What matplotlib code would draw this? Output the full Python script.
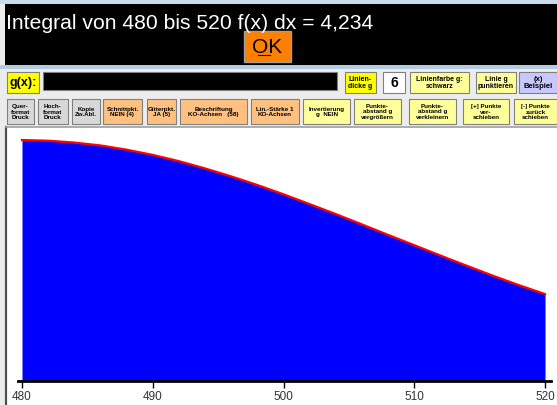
import matplotlib
matplotlib.use('Agg')
import matplotlib.pyplot as plt
from matplotlib.patches import Rectangle

plt.rcParams['font.family'] = ['Liberation Sans', 'DejaVu Sans']

# values (f(x) at every 2 units)
x_vals = [480, 482, 484, 486, 488, 490, 492, 494, 496, 498, 500,
          502, 504, 506, 508, 510, 512, 514, 516, 518, 520]
f_vals = [0.1425, 0.1421, 0.1410, 0.1393, 0.1368, 0.1337, 0.1300, 0.1257,
          0.1210, 0.1159, 0.1104, 0.1046, 0.0987, 0.0926, 0.0864, 0.0803,
          0.0742, 0.0682, 0.0623, 0.0567, 0.0514]
x_ticks = [480, 490, 500, 510, 520]
title_text = "Integral von 480 bis 520 f(x) dx = 4,234"

# buttons of the window: (x0, y0, x1, y1, colour, label, fontsize)
row1 = [
    (7, 72, 39, 93, '#FFFF00', 'g(x):', 9),
    (345, 72, 376, 93, '#FFFF00', 'Linien-\ndicke g', 5),
    (383, 72, 405, 93, '#FFFFFF', '6', 10),
    (410, 72, 469, 93, '#FFFF99', 'Linienfarbe g:\nschwarz', 5),
    (476, 72, 516, 93, '#FFFF99', 'Linie g\npunktieren', 5),
    (519, 72, 557, 93, '#C8C8FF', '(x)\nBeispiel', 5.5),
]
row2 = [
    (7, 99, 34, 124, '#D8D8D8', 'Quer-\nformat\nDruck', 4.5),
    (38, 99, 68, 124, '#D8D8D8', 'Hoch-\nformat\nDruck', 4.5),
    (72, 99, 100, 124, '#D8D8D8', 'Kopie\nZw.Abl.', 4.5),
    (103, 99, 142, 124, '#FFC080', 'Schnittpkt.\nNEIN (4)', 4.5),
    (147, 99, 176, 124, '#FFC080', 'Gitterpkt.\nJA (5)', 4.5),
    (180, 99, 247, 124, '#FFC080', 'Beschriftung\nKO-Achsen   (58)', 4.5),
    (251, 99, 299, 124, '#FFC080', 'Lin.-Stärke 1\nKO-Achsen', 4.5),
    (303, 99, 350, 124, '#FFFF99', 'Invertierung\ng  NEIN', 4.5),
    (354, 99, 401, 124, '#FFFF99', 'Punkte-\nabstand g\nvergrößern', 4.5),
    (409, 99, 456, 124, '#FFFF99', 'Punkte-\nabstand g\nverkleinern', 4.5),
    (463, 99, 509, 124, '#FFFF99', '[+] Punkte\nver-\nschieben', 4.5),
    (514, 99, 557, 124, '#FFFF99', '[-] Punkte\nzurück\nschieben', 4.5),
]

fig = plt.figure(figsize=(5.57, 4.05), dpi=100)
fig.patch.set_facecolor('#ECECEC')

bg = fig.add_axes([0, 0, 1, 1])
bg.set_xlim(0, 557)
bg.set_ylim(405, 0)
bg.axis('off')

def box(x0, y0, x1, y1, color, edge='#808080', lw=0.8):
    bg.add_patch(Rectangle((x0, y0), x1 - x0, y1 - y0, facecolor=color,
                           edgecolor=edge, linewidth=lw))

# top bar
box(0, 0, 557, 4, '#C8DCEE', edge='none')
box(5, 4, 557, 65, '#000000', edge='none')
box(0, 65, 557, 69, '#B4CCE2', edge='none')
bg.text(6, 29, title_text, color='white', fontsize=15.2, va='baseline', ha='left')
box(244, 31, 291, 62, '#FF8000', edge='#A0A0A0', lw=1)
bg.text(267.5, 53, 'OK', color='black', fontsize=15, va='baseline', ha='center')
bg.plot([258, 270], [55, 55], color='black', lw=0.8)

# text field
box(43, 72, 337, 90, '#000000', edge='#808080')

for x0, y0, x1, y1, col, lab, fs in row1 + row2:
    box(x0, y0, x1, y1, col)
    bg.text((x0 + x1) / 2, (y0 + y1) / 2 + 0.5, lab, fontsize=fs, ha='center',
            va='center', fontweight='bold', linespacing=1.05)

# plot panel
box(7, 127, 557, 405, '#FFFFFF', edge='none')
bg.plot([6, 6], [127, 405], color='#505050', lw=1.6)
bg.plot([6, 557], [127, 127], color='#A0A0A0', lw=1.2)

# chart itself
px = 13.09
ax = fig.add_axes([18 / 557, (405 - 381) / 405, 533 / 557, (381 - 128) / 405])
ax.set_facecolor('none')
ax.set_xlim(480 - 4 / px, 520 + 6 / px)
ax.set_ylim(0, (381 - 128) / 1691)
ax.fill_between(x_vals, f_vals, 0, color='#0000FF', linewidth=0)
ax.plot(x_vals, f_vals, color='#FF0000', linewidth=1.6)

for s in ['top', 'left', 'right']:
    ax.spines[s].set_visible(False)
ax.spines['bottom'].set_linewidth(2)
ax.set_yticks([])
ax.set_xticks(x_ticks)
ax.set_xticklabels([str(t) for t in x_ticks])
ax.tick_params(axis='x', direction='out', length=5, width=1, pad=2,
               labelsize=8.5, labelcolor='#333333')

plt.savefig('out.png', dpi=100, facecolor=fig.get_facecolor())
